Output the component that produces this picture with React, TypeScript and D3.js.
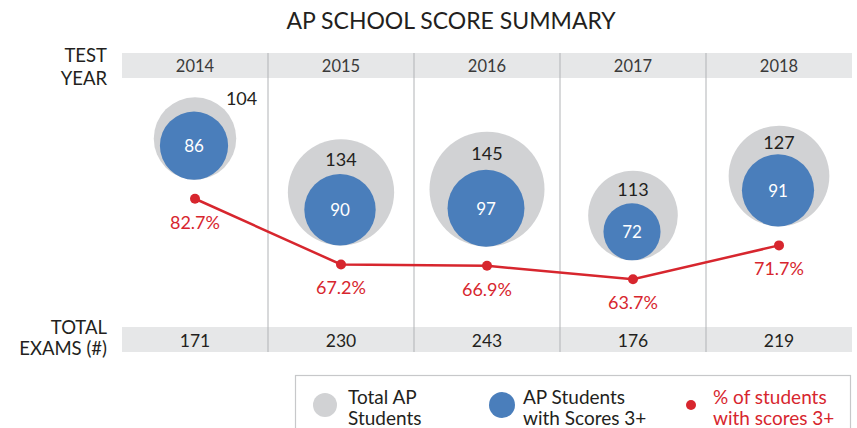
import React from 'react';
import * as d3 from 'd3';

const years = ['2014', '2015', '2016', '2017', '2018'];
const totalStudents = [104, 134, 145, 113, 127];
const scoringStudents = [86, 90, 97, 72, 91];
const pctScoring = [82.7, 67.2, 66.9, 63.7, 71.7];
const totalExams = [171, 230, 243, 176, 219];

const legendItems = [
  { kind: 'gray', lines: ['Total AP', 'Students'] },
  { kind: 'blue', lines: ['AP Students', 'with Scores 3+'] },
  { kind: 'red', lines: ['% of students', 'with scores 3+'] },
];

const W = 857;
const H = 428;
const FONT = 'Lato, "Open Sans", sans-serif';
const GRAY = '#d1d2d4';
const BLUE = '#4a7ebb';
const RED = '#d7262e';
const BAND = '#e6e7e8';
const INK = '#231f20';

const App = () => {
  const x = d3.scaleBand().domain(years).range([122, 852]);
  const y = d3.scaleLinear().domain([60, 85]).range([295, 189]);
  const r = d3.scaleLinear().domain([0, 145]).range([0, 57.5]);

  const pts = years.map((yr, i) => ({
    yr,
    cx: x(yr)! + x.bandwidth() / 2,
    py: y(pctScoring[i]),
    pct: pctScoring[i],
    total: totalStudents[i],
    score: scoringStudents[i],
    exams: totalExams[i],
  }));

  const line = d3.line<any>().x(d => d.cx).y(d => d.py);

  const headTop = 53, headBot = 78;
  const footTop = 327, footBot = 352;

  return (
    <svg width={W} height={H} style={{ position: 'absolute', left: 0, top: 0 }} fontFamily={FONT}>
      <text x={451} y={20} textAnchor="middle" dominantBaseline="central" fontSize={23} fill={INK}>
        AP SCHOOL SCORE SUMMARY
      </text>

      {/* header + footer bands */}
      <rect x={x.range()[0]} y={headTop} width={x.range()[1] - x.range()[0]} height={headBot - headTop} fill={BAND} />
      <rect x={x.range()[0]} y={footTop} width={x.range()[1] - x.range()[0]} height={footBot - footTop} fill={BAND} />
      {years.slice(1).map(yr => (
        <line key={yr} x1={x(yr)} x2={x(yr)} y1={headTop} y2={footBot} stroke="#b1b3b6" strokeWidth={1} />
      ))}

      <g fontSize={18.5} fill={INK} textAnchor="end" dominantBaseline="central">
        <text x={107} y={55}>TEST</text>
        <text x={107} y={78}>YEAR</text>
        <text x={107} y={327}>TOTAL</text>
        <text x={107} y={348}>EXAMS (#)</text>
      </g>

      {pts.map(p => (
        <g key={p.yr}>
          <text x={p.cx} y={66} textAnchor="middle" dominantBaseline="central" fontSize={16.5} fill="#3a3a3a">{p.yr}</text>
          <text x={p.cx} y={340} textAnchor="middle" dominantBaseline="central" fontSize={17.5} fill={INK}>{p.exams}</text>
        </g>
      ))}

      {/* nested bubbles, bottom aligned above the line point */}
      {pts.map(p => {
        const base = p.py - 19;
        const rg = r(p.total), rb = r(p.score);
        const gy = base - rg, by = base - rb;
        const outside = rg - rb < 10;
        return (
          <g key={'b' + p.yr}>
            <circle cx={p.cx} cy={gy} r={rg} fill={GRAY} />
            <circle cx={p.cx - 1} cy={by} r={rb} fill={BLUE} />
            <text x={p.cx - 1} y={by} textAnchor="middle" dominantBaseline="central" fontSize={17} fill="#fff">{p.score}</text>
            {outside ? (
              <text x={p.cx + rg * 0.75} y={gy - rg * 0.98} dominantBaseline="central" fontSize={18} fill={INK}>{p.total}</text>
            ) : (
              <text x={p.cx} y={(gy - rg + by - rb) / 2 + 2} textAnchor="middle" dominantBaseline="central" fontSize={18} fill={INK}>{p.total}</text>
            )}
          </g>
        );
      })}

      <path d={line(pts)!} fill="none" stroke={RED} strokeWidth={2.5} />
      {pts.map(p => (
        <g key={'p' + p.yr}>
          <circle cx={p.cx} cy={p.py} r={5} fill={RED} />
          <text x={p.cx} y={p.py + 23} textAnchor="middle" dominantBaseline="central" fontSize={18} fill={RED}>
            {p.pct.toFixed(1)}%
          </text>
        </g>
      ))}

      {/* legend */}
      <rect x={295.5} y={375.5} width={555} height={60} fill="#fff" stroke="#c7c8ca" strokeWidth={1.2} />
      {legendItems.map((it, i) => {
        const lx = [325, 502, 691][i];
        const tx = [348, 523, 713][i];
        const fill = it.kind === 'gray' ? GRAY : it.kind === 'blue' ? BLUE : RED;
        const rad = it.kind === 'gray' ? 12 : it.kind === 'blue' ? 13 : 5;
        return (
          <g key={it.kind}>
            <circle cx={lx} cy={405} r={rad} fill={fill} />
            {it.lines.map((t, j) => (
              <text key={t} x={tx} y={396 + j * 21} dominantBaseline="central" fontSize={19} fill={it.kind === 'red' ? RED : INK}>{t}</text>
            ))}
          </g>
        );
      })}
    </svg>
  );
};

export default App;
